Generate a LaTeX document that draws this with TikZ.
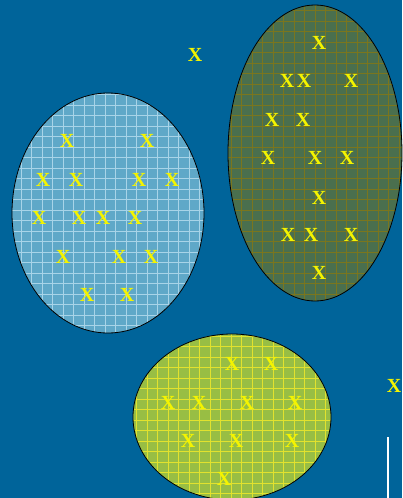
\documentclass[tikz,border=0pt]{standalone}
\usepackage{fontspec}
\setmainfont{Liberation Serif}
\usetikzlibrary{shapes.geometric}
\definecolor{cbg}{HTML}{00649A}
\definecolor{cmark}{HTML}{F4F400}
\definecolor{cleft}{HTML}{5FA8C8}
\definecolor{cleftgrid}{HTML}{A8D4E8}
\definecolor{cright}{HTML}{4A6F4E}
\definecolor{crightgrid}{HTML}{7A761E}
\definecolor{cbottom}{HTML}{98BE44}
\definecolor{cbottomgrid}{HTML}{E2E22E}

\begin{document}
\begin{tikzpicture}[
  x=1pt, y=-1pt,
  xmark/.style={text=cmark, font=\fontsize{20}{20}\selectfont\bfseries, inner sep=0pt},
  blob/.style={ellipse, draw=black, line width=0.8pt, inner sep=0pt},
  gridline/.style={line width=0.6pt, step=10.5, y=1pt}
]
% Background
\fill[cbg] (0,0) rectangle (402,498);
\useasboundingbox (0,0) rectangle (402,498);

% Left set
\begin{scope}
  \clip (108,213) ellipse [x radius=96, y radius=120];
  \fill[cleft] (0,0) rectangle (402,498);
  \draw[gridline, cleftgrid] (0,-498) grid (402,0);
\end{scope}
\node[blob, minimum width=192, minimum height=240] (lset) at (108,213) {};

% Right set
\begin{scope}
  \clip (315,153) ellipse [x radius=87, y radius=148];
  \fill[cright] (0,0) rectangle (402,498);
  \draw[gridline, crightgrid] (0,-498) grid (402,0);
\end{scope}
\node[blob, minimum width=174, minimum height=296] (rset) at (315,153) {};

% Bottom set
\begin{scope}
  \clip (232,417) ellipse [x radius=99, y radius=83];
  \fill[cbottom] (0,0) rectangle (402,498);
  \draw[gridline, cbottomgrid] (0,-498) grid (402,0);
\end{scope}
\node[blob, minimum width=198, minimum height=166] (bset) at (232,417) {};

% Points in the left set
\foreach \px/\py [count=\i] in {67/141, 147/141, 43/180, 76/180, 139/180, 172/180,
    39/218, 79/218, 103/218, 135/218, 63/257, 119/257, 151/257, 87/295, 127/295}
  \node[xmark] (l\i) at (\px,\py) {X};

% Points in the right set
\foreach \px/\py [count=\i] in {319/43, 287/81, 304/81, 351/81, 272/120, 303/120,
    268/158, 315/158, 347/158, 319/198, 288/235, 311/235, 351/235, 319/273}
  \node[xmark] (r\i) at (\px,\py) {X};

% Points in the bottom set
\foreach \px/\py [count=\i] in {232/364, 271/364, 168/403, 199/403, 247/403, 295/403,
    188/441, 236/441, 292/441, 224/479}
  \node[xmark] (b\i) at (\px,\py) {X};

% Outliers
\node[xmark] (o1) at (195,55) {X};
\node[xmark] (o2) at (394,386) {X};

% White bar
\draw[white, line width=2.5pt] (388,437) -- (388,498);
\end{tikzpicture}
\end{document}
